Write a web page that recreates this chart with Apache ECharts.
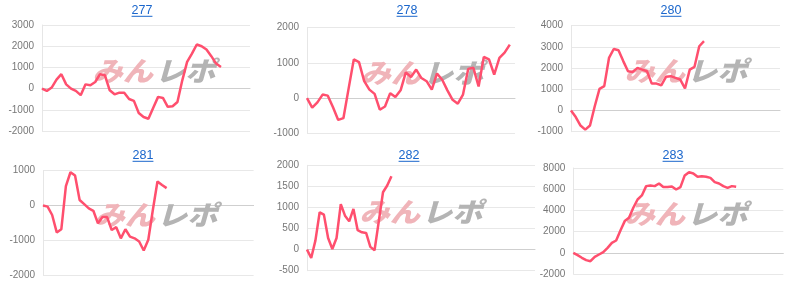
<!DOCTYPE html>
<html><head><meta charset="utf-8">
<script src="https://cdn.jsdelivr.net/npm/echarts@6/dist/echarts.min.js"></script>
<style>html,body{margin:0;padding:0;background:#fff}#c{width:800px;height:286px}</style>
</head><body><div id="c"></div>
<script>
// ---- data ----
const titles = ['277', '278', '280', '281', '282', '283'];
const s277 = [0, -110, 50, 420, 680, 200, 0, -110, -310, 200, 160, 310, 680, 630, -80, -270, -190, -200, -490, -580, -1150, -1340, -1420, -900, -390, -440, -860, -830, -630, 390, 1260, 1650, 2080, 2000, 1840, 1530, 1180, 1020];
const s278 = [0, -270, -120, 100, 70, -260, -620, -570, 270, 1100, 1020, 480, 240, 120, -330, -240, 140, 30, 220, 730, 600, 810, 570, 480, 240, 700, 520, 220, -50, -160, 100, 830, 860, 330, 1170, 1100, 670, 1140, 1290, 1520];
const s280 = [0, -310, -710, -900, -710, 200, 1020, 1150, 2480, 2900, 2840, 2330, 1850, 1820, 2010, 1930, 1850, 1270, 1270, 1190, 1590, 1620, 1540, 1460, 1040, 1930, 2060, 3030, 3270];
const s281 = [0, -30, -270, -770, -680, 560, 955, 860, 160, 40, -80, -150, -510, -330, -330, -700, -620, -940, -680, -890, -940, -1030, -1290, -980, -120, 690, 590, 500];
const s282 = [0, -200, 220, 885, 830, 275, 15, 275, 1080, 805, 670, 965, 460, 410, 395, 65, -15, 670, 1360, 1520, 1740];
const s283 = [0, -220, -470, -690, -790, -380, -160, 60, 470, 940, 1160, 2110, 2990, 3300, 4250, 5030, 5410, 6290, 6350, 6290, 6540, 6200, 6200, 6260, 5970, 6190, 7300, 7610, 7480, 7170, 7230, 7170, 7070, 6670, 6540, 6290, 6130, 6290, 6230];
const yMin = [-2000, -1000, -1000, -2000, -500, -2000];
const yMax = [3000, 2000, 4000, 1000, 2000, 8000];
const yStep = [1000, 1000, 1000, 1000, 500, 2000];
const catCount = [44, 41, 45, 47, 55, 50];
const logoA = 'みん';
const logoB = 'レポ';

// ---- layout ----
const series = [s277, s278, s280, s281, s282, s283];
const gridPos = [
  {left: 42, top: 25, width: 208, height: 106},
  {left: 307, top: 27.7, width: 208, height: 105.6},
  {left: 571, top: 25.7, width: 209, height: 106},
  {left: 43, top: 170.7, width: 210.6, height: 104.6},
  {left: 307, top: 165.3, width: 228, height: 105.4},
  {left: 573.3, top: 168, width: 210, height: 106}
];
const titlePos = [[142, 10.5], [407, 10.5], [671, 10.5], [143, 155.5], [409, 155.5], [673, 155.5]];
const logoPos = [[154, 71], [422, 73], [686, 71], [156, 215], [421, 212], [686, 214]];

const FONT = "'Liberation Sans', Arial, sans-serif";
const titleFont = '12.5px ' + FONT;
const meas = document.createElement('canvas').getContext('2d');
meas.font = titleFont;

const grid = [], xAxis = [], yAxis = [], ser = [], graphic = [];
for (let i = 0; i < 6; i++) {
  grid.push(Object.assign({containLabel: false}, gridPos[i]));
  const cats = [];
  for (let k = 0; k < catCount[i]; k++) cats.push(String(k));
  xAxis.push({
    type: 'category', gridIndex: i, data: cats, boundaryGap: false,
    axisLabel: {show: false}, axisTick: {show: false}, splitLine: {show: false},
    axisLine: {show: true, onZero: true, lineStyle: {color: '#cfcfcf', width: 1}}
  });
  yAxis.push({
    type: 'value', gridIndex: i, min: yMin[i], max: yMax[i], interval: yStep[i],
    axisLine: {show: true, lineStyle: {color: '#e6e6e6'}},
    axisTick: {show: false},
    splitLine: {lineStyle: {color: '#e8e8e8'}},
    axisLabel: {color: '#777', fontSize: 10, fontFamily: FONT, margin: 8, formatter: v => String(v)}
  });
  ser.push({
    type: 'line', xAxisIndex: i, yAxisIndex: i, data: series[i],
    showSymbol: false, smooth: false, z: 5, animation: false,
    lineStyle: {color: '#ff4f6e', width: 2.5}, itemStyle: {color: '#ff4f6e'}
  });
  const [tx, ty] = titlePos[i];
  const tw = meas.measureText(titles[i]).width;
  graphic.push({type: 'text', x: tx, y: ty, z: 10,
    style: {text: titles[i], font: titleFont, fill: '#1a66cc', align: 'center', verticalAlign: 'middle'}});
  graphic.push({type: 'rect', z: 10, shape: {x: tx - tw / 2, y: ty + 5.3, width: tw, height: 1},
    style: {fill: '#1a66cc'}});
  const [lx, ly] = logoPos[i];
  graphic.push({type: 'text', x: lx - 1, y: ly, z: 1, scaleX: 1.12,
    style: {text: logoA, font: "italic 900 27px 'Noto Sans CJK JP'", fill: '#f0b4b9', align: 'right', verticalAlign: 'middle'}});
  graphic.push({type: 'text', x: lx + 1, y: ly, z: 1, scaleX: 1.12,
    style: {text: logoB, font: "italic 900 27px 'Noto Sans CJK JP'", fill: '#b4b4b4', align: 'left', verticalAlign: 'middle'}});
}

const chart = echarts.init(document.getElementById('c'), null, {renderer: 'canvas'});
chart.setOption({
  animation: false,
  backgroundColor: '#fff',
  grid, xAxis, yAxis, series: ser, graphic
});
</script></body></html>
